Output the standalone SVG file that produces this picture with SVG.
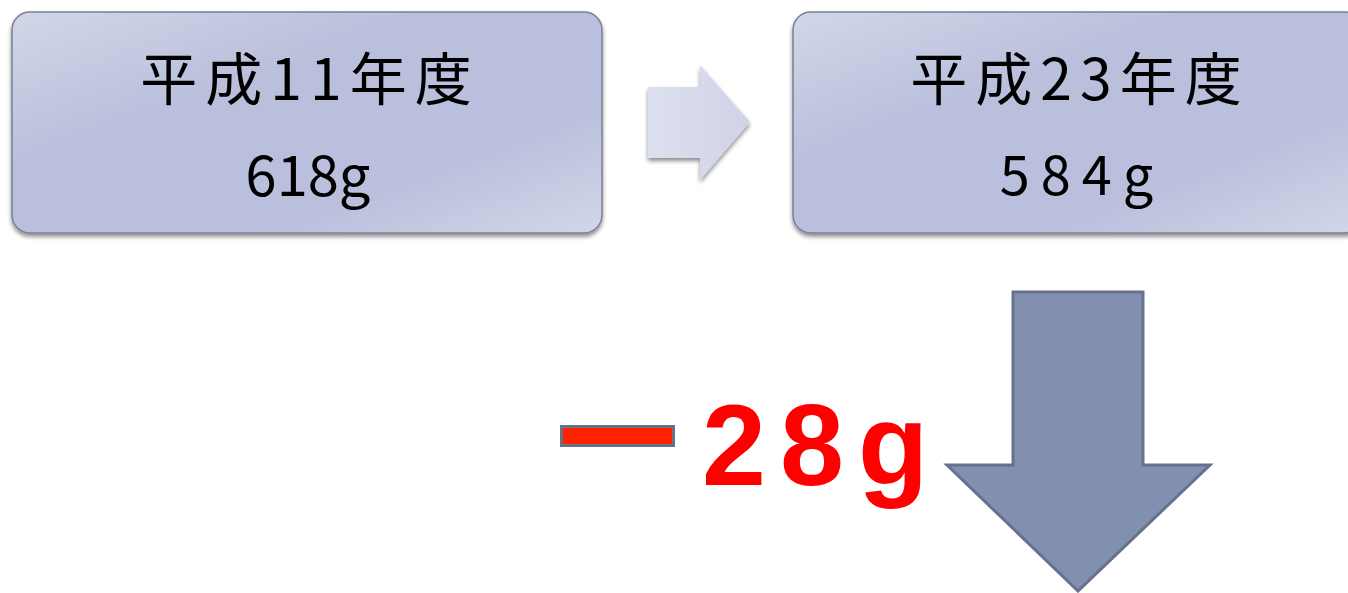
<svg xmlns="http://www.w3.org/2000/svg" width="1348" height="593" viewBox="0 0 1348 593">
<style>
.box{stroke:#7b8092;stroke-width:1.5;fill:url(#boxg);filter:url(#sh)}
.t{font-family:"Noto Sans CJK JP","Noto Sans",sans-serif;fill:#000;text-anchor:middle}
.red{font-family:"Liberation Sans","Noto Sans",sans-serif;font-weight:bold;fill:#ff0000}
</style>
<defs>
<linearGradient id="boxg" x1="0" y1="0" x2="1" y2="1">
<stop offset="0" stop-color="#d2d6e8"/>
<stop offset="0.35" stop-color="#bac0dc"/>
<stop offset="0.7" stop-color="#b9bfdc"/>
<stop offset="1" stop-color="#d3d6e8"/>
</linearGradient>
<linearGradient id="arrg" x1="0" y1="0" x2="1" y2="0">
<stop offset="0" stop-color="#dde0ee"/>
<stop offset="1" stop-color="#cfd3e6"/>
</linearGradient>
<filter id="sh" x="-10%" y="-10%" width="120%" height="130%">
<feGaussianBlur in="SourceAlpha" stdDeviation="2"/>
<feOffset dx="0" dy="3" result="b"/>
<feFlood flood-color="#000" flood-opacity="0.45"/>
<feComposite in2="b" operator="in"/>
<feMerge><feMergeNode/><feMergeNode in="SourceGraphic"/></feMerge>
</filter>
</defs>
<g id="node-h11">
<rect class="box" x="12" y="12" width="590" height="221" rx="18"/>
<text class="t" x="310" y="100" font-size="57" letter-spacing="8">平成11年度</text>
<text class="t" x="308" y="196" font-size="56">618g</text>
</g>
<g id="node-h23">
<rect class="box" x="793" y="12" width="570" height="221" rx="18"/>
<text class="t" x="1080" y="100" font-size="57" letter-spacing="8">平成23年度</text>
<text class="t" x="1082" y="195" font-size="54" letter-spacing="11">584g</text>
</g>
<g id="connectors">
<polygon points="648,87 700,87 700,65 750,122 700,180 700,158 648,158" fill="url(#arrg)" filter="url(#sh)"/>
<polygon points="1013,292 1143,292 1143,465 1210,465 1078,591 947,465 1013,465" fill="#8290b0" stroke="#68708f" stroke-width="3" stroke-linejoin="miter"/>
</g>
<g id="label-diff">
<rect x="561.5" y="426.5" width="112" height="19" fill="#ff2200" stroke="#667088" stroke-width="3"/>
<text class="red" x="702" y="485" font-size="115" letter-spacing="14">28g</text>
</g>
</svg>
